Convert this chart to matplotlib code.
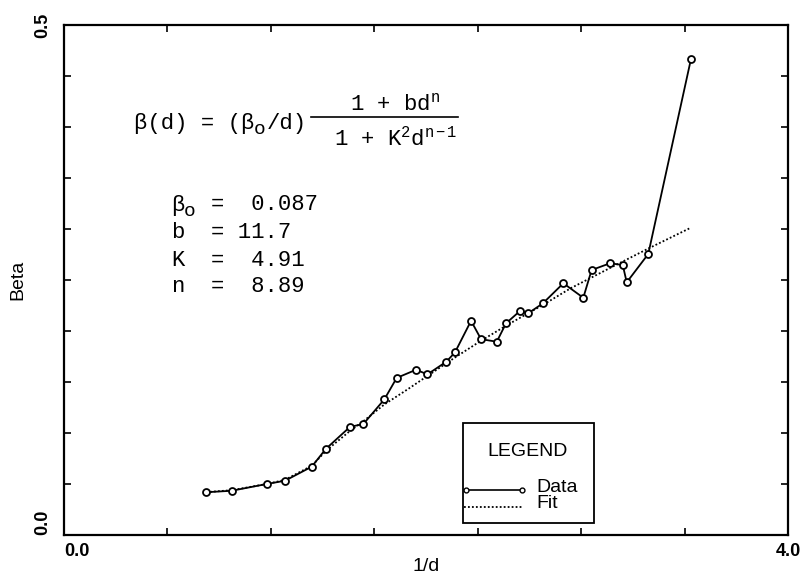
import numpy as np
import matplotlib
matplotlib.use('Agg')
import matplotlib.pyplot as plt
from matplotlib.lines import Line2D
from matplotlib.patches import Rectangle

plt.rcParams['mathtext.fontset'] = 'custom'
plt.rcParams['mathtext.rm'] = 'Liberation Mono'
plt.rcParams['mathtext.it'] = 'Liberation Mono'

# measured points (1/d, beta)
inv_d = [0.785, 0.927, 1.120, 1.221, 1.369, 1.446, 1.580, 1.654, 1.770, 1.838,
         1.945, 2.008, 2.113, 2.160, 2.249, 2.304, 2.391, 2.442, 2.519, 2.565,
         2.645, 2.759, 2.869, 2.915, 3.017, 3.087, 3.109, 3.228, 3.464]
beta = [0.0419, 0.0434, 0.0500, 0.0532, 0.0670, 0.0843, 0.1060, 0.1088, 0.1330, 0.1540,
        0.1620, 0.1575, 0.1700, 0.1790, 0.2100, 0.1920, 0.1895, 0.2075, 0.2196, 0.2174,
        0.2270, 0.2468, 0.2326, 0.2598, 0.2664, 0.2647, 0.2477, 0.2755, 0.4667]

# fitted curve
fit_x = [0.785, 0.93, 1.12, 1.22, 1.37, 1.45, 1.58, 1.65, 1.77, 1.90,
         2.00, 2.16, 2.30, 2.45, 2.65, 2.80, 3.03, 3.23, 3.46]
fit_y = [0.042, 0.044, 0.050, 0.054, 0.068, 0.083, 0.102, 0.111, 0.128, 0.143,
         0.155, 0.174, 0.190, 0.206, 0.226, 0.242, 0.263, 0.281, 0.301]

param_names = ['b', 'K', 'n']
param_vals = ['=  0.087', '= 11.7', '=  4.91', '=  8.89']

W, H = 801, 576
fig = plt.figure(figsize=(W / 100, H / 100), dpi=100)
ax = fig.add_axes([64 / W, 1 - 535 / H, 724 / W, 510 / H])

def fx(px):
    return px / W

def fy(py):
    return 1 - py / H

ax.plot(fit_x, fit_y, color='black', linestyle=(0, (1, 1.2)), linewidth=1.3)
ax.plot(inv_d, beta, color='black', linewidth=1.3, marker='o', markersize=5,
        markerfacecolor='white', markeredgewidth=1.3)

ax.set_xlim(0, 4.0)
ax.set_ylim(0, 0.5)
xt = np.arange(8) * 4.0 / 7
ax.set_xticks(xt)
ax.set_xticklabels(['0.0', '', '', '', '', '', '', '4.0'])
yt = np.arange(11) * 0.05
ax.set_yticks(yt)
ax.set_yticklabels(['0.0'] + [''] * 9 + ['0.5'])
ax.tick_params(direction='in', top=True, right=True, length=5, width=1.2)
ax.tick_params(axis='x', pad=6)
ax.tick_params(axis='y', pad=9)
for lab in ax.get_xticklabels():
    lab.set_fontfamily('Liberation Sans')
    lab.set_fontweight('bold')
    lab.set_fontsize(13)
ax.get_xticklabels()[0].set_horizontalalignment('left')
for lab in ax.get_yticklabels():
    lab.set_fontfamily('Liberation Sans')
    lab.set_fontweight('bold')
    lab.set_fontsize(13)
    lab.set_rotation(90)
    lab.set_horizontalalignment('right')
ax.get_yticklabels()[0].set_verticalalignment('bottom')
ax.get_yticklabels()[-1].set_verticalalignment('center')
for sp in ax.spines.values():
    sp.set_linewidth(1.6)

ax.set_xlabel('1/d', fontfamily='Liberation Sans', fontsize=14)
ax.set_ylabel('Beta', fontfamily='Liberation Sans', fontsize=14)
ax.xaxis.set_label_coords(0.5, (535 - 558) / 510)
ax.yaxis.set_label_coords((26 - 64) / 724, 0.5)

# formula
mono = dict(fontfamily='Liberation Mono', fontsize=16, color='black')
sub = dict(fontfamily='Liberation Mono', fontsize=14, color='black')
fig.text(fx(134), fy(123), 'β(d) = (β', va='center', ha='left', **mono)
fig.text(fx(254), fy(130), 'o', va='center', ha='left', **sub)
fig.text(fx(267), fy(123), '/d)', va='center', ha='left', **mono)
fig.add_artist(Line2D([fx(311), fx(458)], [fy(117), fy(117)], color='black', linewidth=1.2))
fig.text(fx(395), fy(104), '1 + bd$^\\mathrm{n}$', va='center', ha='center', **mono)
fig.text(fx(396), fy(139), '1 + K$^\\mathrm{2}$d$^\\mathrm{n-1}$', va='center', ha='center', **mono)

rows_y = [205, 233, 260, 287]
fig.text(fx(171), fy(rows_y[0]), 'β', va='center', ha='left', **mono)
fig.text(fx(184), fy(rows_y[0] + 7), 'o', va='center', ha='left', **sub)
for name, yy in zip(param_names, rows_y[1:]):
    fig.text(fx(171), fy(yy), name, va='center', ha='left', **mono)
for val, yy in zip(param_vals, rows_y):
    fig.text(fx(211), fy(yy), val, va='center', ha='left', **mono)

# legend box
def axx(px):
    return (px - 64) / 724

def axy(py):
    return (535 - py) / 510

ax.add_patch(Rectangle((axx(463), axy(523)), axx(594) - axx(463), axy(423) - axy(523),
                       transform=ax.transAxes, fill=False, edgecolor='black', linewidth=1.3))
ax.text(axx(528), axy(452), 'LEGEND', transform=ax.transAxes, ha='center', va='center',
        fontfamily='Liberation Sans', fontsize=14)
ax.plot([axx(466), axx(522)], [axy(490), axy(490)], transform=ax.transAxes, color='black',
        linewidth=1.2, marker='o', markersize=3.5, markerfacecolor='white', markeredgewidth=1.0)
ax.plot([axx(464), axx(522)], [axy(507), axy(507)], transform=ax.transAxes, color='black',
        linestyle=(0, (1, 1.2)), linewidth=1.3)
ax.text(axx(536), axy(488), 'Data', transform=ax.transAxes, ha='left', va='center',
        fontfamily='Liberation Sans', fontsize=14)
ax.text(axx(536), axy(504), 'Fit', transform=ax.transAxes, ha='left', va='center',
        fontfamily='Liberation Sans', fontsize=14)

fig.savefig('out.png', dpi=100)
